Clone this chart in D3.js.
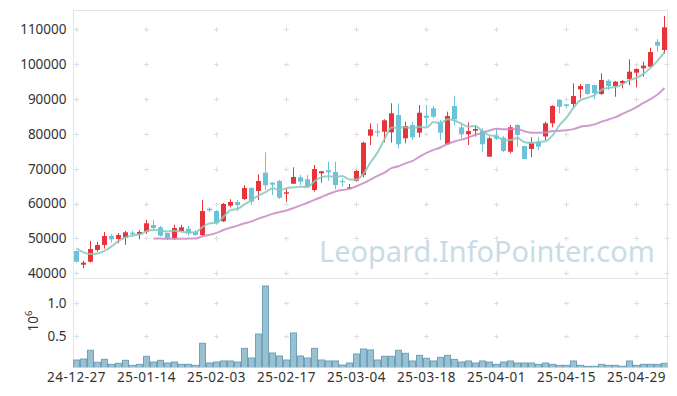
<!DOCTYPE html>
<html><head><meta charset="utf-8">
<script src="https://cdn.jsdelivr.net/npm/d3@7"></script>
<style>html,body{margin:0;padding:0;background:#fff;}svg{display:block;font-family:"Noto Sans",sans-serif;}</style>
</head><body><svg id="c" width="677" height="396"></svg>
<script>
const dates = ["24-12-27","24-12-30","25-01-02","25-01-03","25-01-06","25-01-07","25-01-08","25-01-09","25-01-10","25-01-13",
"25-01-14","25-01-15","25-01-16","25-01-17","25-01-20","25-01-21","25-01-22","25-01-23","25-01-24","25-01-31",
"25-02-03","25-02-04","25-02-05","25-02-06","25-02-07","25-02-10","25-02-11","25-02-12","25-02-13","25-02-14",
"25-02-17","25-02-18","25-02-19","25-02-20","25-02-21","25-02-24","25-02-25","25-02-26","25-02-27","25-02-28",
"25-03-04","25-03-05","25-03-06","25-03-07","25-03-10","25-03-11","25-03-12","25-03-13","25-03-14","25-03-17",
"25-03-18","25-03-19","25-03-20","25-03-21","25-03-24","25-03-25","25-03-26","25-03-27","25-03-28","25-03-31",
"25-04-01","25-04-02","25-04-03","25-04-04","25-04-07","25-04-08","25-04-09","25-04-10","25-04-11","25-04-14",
"25-04-15","25-04-16","25-04-17","25-04-18","25-04-21","25-04-22","25-04-23","25-04-24","25-04-25","25-04-28",
"25-04-29","25-04-30","25-05-02","25-05-07","25-05-08"];

const open = [46400,42460,43320,46680,48120,50700,49840,50210,51650,51270,
51930,53850,53190,51560,50040,52130,52790,51850,50990,58530,
57870,54920,59390,60450,61310,64470,63610,68860,65990,66480,
62830,65700,67540,66970,63900,68690,69550,69060,66480,64380,
66560,68200,79470,80740,80620,80450,85410,78730,82540,80340,
85210,87340,83490,77010,88000,81880,79880,80910,80910,73450,
79470,78900,74880,82540,76520,75660,77750,79250,83030,89800,
88480,88570,92790,94310,94020,91440,95250,93730,94510,95740,
97550,98810,99270,106440,104060];

const high = [46500,43610,49260,48980,51850,51270,51560,52130,52220,52420,
55290,55290,53570,51560,53940,53940,53570,52420,61030,58930,
58160,60170,61230,61030,65240,64700,68400,74710,66100,66760,
64380,70410,68200,68200,71070,69400,72010,72010,67250,65620,
69630,77750,83030,83030,84180,88770,88770,83490,83490,88280,
88280,88000,83980,86360,90950,83200,83320,82260,81600,79190,
81600,79390,82540,82800,76520,79020,79190,83490,88200,89900,
88500,94500,94310,94310,94100,97380,95660,95200,95450,101390,
98810,100710,104720,107220,113820];

const low = [43100,41430,43040,46190,47060,48780,48600,48200,50330,49750,
51270,52620,50500,49550,49550,51930,50790,50700,50700,57590,
53940,54710,58930,57870,61030,59590,61030,63900,62460,61310,
60540,65700,65330,64700,63410,65990,66560,64100,64840,64100,
66280,67540,76810,79190,77580,77470,75860,77290,78240,79020,
82060,84470,78240,76810,82540,78730,76810,79190,74880,73450,
78240,74710,74420,76320,72790,73280,75370,78240,81880,85900,
87340,87340,90200,91200,90000,91200,92590,90660,93070,94000,
93360,96400,99270,103570,102910];

const close = [43300,43040,46970,48120,50700,49750,50990,51760,51270,51850,
54340,52990,50780,50040,52990,53190,51470,50990,57870,58070,
54340,59880,60450,59590,64470,60540,66480,65240,65420,61690,
63240,67630,66280,64840,69920,69260,68970,65330,66190,64670,
69350,77470,81310,80450,83890,85900,77010,82260,79020,86070,
84640,84930,80340,85130,84180,79880,80820,81400,77010,78730,
78610,75090,81880,79680,72790,77580,76320,83030,88000,87790,
88000,90860,93730,91440,91700,95450,93730,94970,95170,97840,
98610,99560,103490,105300,110570];

const volume = [125000,140000,275000,90000,135000,58000,74000,120000,43000,58000,
182000,94000,120000,79000,94000,58000,58000,43000,383000,79000,
94000,110000,110000,94000,305000,156000,526000,1267000,233000,187000,
125000,542000,187000,156000,305000,125000,110000,110000,48000,79000,
218000,295000,280000,125000,182000,182000,275000,228000,110000,197000,
151000,110000,166000,197000,135000,94000,110000,79000,110000,94000,
58000,94000,110000,79000,79000,79000,58000,79000,58000,43000,
43000,110000,43000,28000,28000,58000,43000,43000,28000,110000,
43000,58000,58000,58000,74000];

const ma5 = [47170,46000,45530,45700,46430,47720,49310,50260,50890,51120,
52040,52440,52250,52000,52230,52000,51690,51740,53300,54320,
54550,56230,58120,58470,59750,60990,62310,63260,64430,63870,
64410,64640,64850,64740,66380,67590,67850,67660,67930,66880,
66900,68600,71800,74650,78490,81800,81710,81900,81620,82050,
81800,83380,83000,84220,83840,82890,82070,82280,80660,79570,
79310,78170,78260,78800,77610,77400,77650,77880,79540,82540,
84630,87540,89680,90360,91150,92640,93210,93460,94200,95430,
96060,97230,98930,100960,103510];

const ma20 = [null,null,null,null,null,null,null,null,null,null,
null,50000,49950,49900,49900,49900,49950,50000,50600,51020,
51580,52420,53090,53670,54350,54890,55670,56340,57050,57540,
57990,58720,59490,60230,61080,61880,62760,63480,63890,64220,
64970,65850,66900,67940,68910,70180,70700,71550,72230,73450,
74520,75390,76090,77110,77820,78350,78940,79750,80290,80990,
81450,81330,81360,81320,80770,80350,80320,80360,80810,80890,
81060,81360,82030,82340,82720,83500,84140,84820,85730,86680,
87680,88910,89990,91270,93160];

const priceTicks = [40000,50000,60000,70000,80000,90000,100000,110000];
const volTicks = [0.5, 1.0];
const tickIdx = [0,10,20,30,40,50,60,70,80];
const watermark = "Leopard.InfoPointer.com";

const svg = d3.select("#c");
const L = 73, R = 667.5, T1 = 10, B1 = 278.3, B2 = 367.3;
const x = d3.scaleLinear().domain([-0.5, 84.5]).range([72.5, 667.5]);
const px = i => Math.round(x(i));
const yP = d3.scaleLinear().domain([38560, 115540]).range([B1, T1]);
const yV = d3.scaleLinear().domain([0, 1.386]).range([368.1, B1]);

const UP = "#e8333b", DOWN = "#6cc3d8", GRID = "#dedede";

svg.append("defs").append("clipPath").attr("id","cv")
  .append("rect").attr("x", L).attr("y", B1).attr("width", R - L).attr("height", B2 - B1);
svg.select("defs").append("clipPath").attr("id","cp")
  .append("rect").attr("x", L).attr("y", T1).attr("width", R - L).attr("height", B1 - T1);

// watermark (font size fitted to the reference width)
const wm = svg.append("text").attr("x", 319).attr("y", 262)
  .attr("font-size", 31).attr("fill", "#c9dce6").text(watermark);
const wlen = wm.node().getComputedTextLength();
if (wlen > 0) wm.attr("font-size", 31 * 336 / wlen);

// grid "+" markers
const gx = tickIdx.map(i => px(i) + 0.5).concat([667]);
const gy = priceTicks.map(v => yP(v)).concat(volTicks.map(v => yV(v)));
const g = svg.append("g").attr("stroke", GRID).attr("stroke-width", 1);
gx.forEach(xx => gy.forEach(yy => {
  const yr = Math.round(yy) + 0.5;
  g.append("line").attr("x1", xx - 2.5).attr("x2", xx + 2.5).attr("y1", yr).attr("y2", yr);
  g.append("line").attr("x1", xx).attr("x2", xx).attr("y1", yr - 2.5).attr("y2", yr + 2.5);
}));

// frames
const fr = svg.append("g").attr("stroke", "#e4e4e4").attr("stroke-width", 1).attr("fill", "none");
fr.append("line").attr("x1", L).attr("x2", R).attr("y1", 10.5).attr("y2", 10.5);
fr.append("line").attr("x1", L).attr("x2", R).attr("y1", 278.5).attr("y2", 278.5);
fr.append("line").attr("x1", L).attr("x2", R).attr("y1", 367.5).attr("y2", 367.5);
fr.append("line").attr("x1", 73.5).attr("x2", 73.5).attr("y1", 10).attr("y2", 368);
fr.append("line").attr("x1", 667.5).attr("x2", 667.5).attr("y1", 10).attr("y2", 368);

// volume bars
svg.append("g").attr("clip-path","url(#cv)").selectAll("rect").data(volume).join("rect")
  .attr("x", (d,i) => px(i) - 2.5)
  .attr("width", 6)
  .attr("y", d => yV(d / 1e6))
  .attr("height", d => yV(0) - yV(d / 1e6))
  .attr("fill", "#99c1d2").attr("stroke", "#6fa2ba").attr("stroke-width", 1);

// candles
const cg = svg.append("g").attr("clip-path","url(#cp)");
const idx = d3.range(close.length);
cg.selectAll("line.w").data(idx).join("line").attr("class","w")
  .attr("x1", i => px(i) + 0.5).attr("x2", i => px(i) + 0.5)
  .attr("y1", i => yP(high[i])).attr("y2", i => yP(low[i]))
  .attr("stroke", i => close[i] >= open[i] ? UP : DOWN).attr("stroke-width", 1);
cg.selectAll("rect.b").data(idx).join("rect").attr("class","b")
  .attr("x", i => px(i) - 2).attr("width", 5)
  .attr("y", i => yP(Math.max(open[i], close[i])))
  .attr("height", i => Math.max(1.2, Math.abs(yP(open[i]) - yP(close[i]))))
  .attr("fill", i => close[i] >= open[i] ? UP : DOWN);

// moving averages
const lineGen = arr => d3.line().defined((d,i) => arr[i] != null)
  .x((d,i) => px(i) + 0.5).y((d,i) => yP(arr[i])).curve(d3.curveMonotoneX)(arr);
cg.append("path").attr("d", lineGen(ma20)).attr("fill","none")
  .attr("stroke", "#c78bc7").attr("stroke-width", 2).attr("opacity", 0.85);
cg.append("path").attr("d", lineGen(ma5)).attr("fill","none")
  .attr("stroke", "#86c9bb").attr("stroke-width", 2).attr("opacity", 0.85);

// y labels
const lab = svg.append("g").attr("font-size", 13.5).attr("fill", "#333").attr("text-anchor", "end");
priceTicks.forEach(v => lab.append("text").attr("x", 66.5).attr("y", yP(v) + 4.8).text(v));
volTicks.forEach(v => lab.append("text").attr("x", 66.5).attr("y", yV(v) + 4.8).text(v.toFixed(1)));

// 10^6 label
const e = svg.append("text").attr("transform", "translate(38,321) rotate(-90)")
  .attr("text-anchor", "middle").attr("font-size", 13.5).attr("fill", "#333");
e.append("tspan").text("10");
e.append("tspan").attr("dy", -6).attr("font-size", 9.5).text("6");

// x labels
const xl = svg.append("g").attr("font-size", 13.5).attr("fill", "#333").attr("text-anchor", "middle")
  .attr("letter-spacing", "0.5px");
tickIdx.forEach(i => xl.append("text").attr("x", px(i) + 0.5).attr("y", 382).text(dates[i]));
</script></body></html>
